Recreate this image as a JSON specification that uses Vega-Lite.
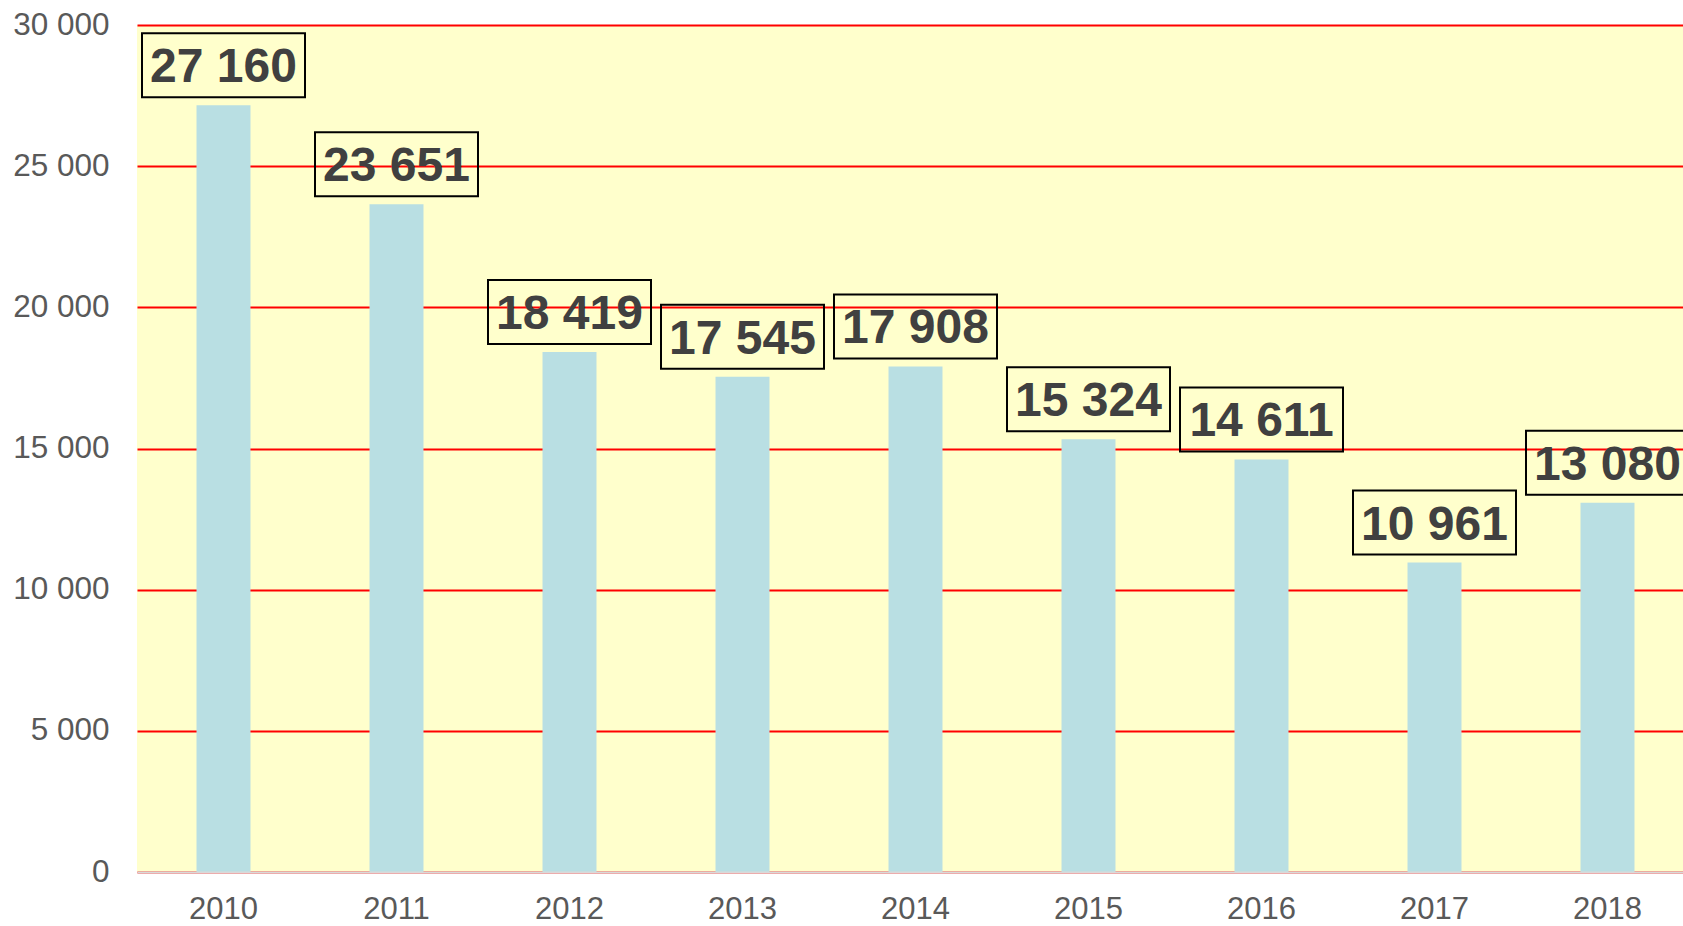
{
  "$schema": "https://vega.github.io/schema/vega-lite/v6.json",
  "autosize": "none",
  "width": 1546,
  "height": 847,
  "padding": {"left": 137, "top": 25, "right": 0, "bottom": 54},
  "background": "#FFFFFF",
  "config": {
    "view": {"fill": "#FFFFCC", "stroke": null},
    "font": "Liberation Sans"
  },
  "data": {
    "values": [
      {"year": "2010", "value": 27160, "label": "27 160"},
      {"year": "2011", "value": 23651, "label": "23 651"},
      {"year": "2012", "value": 18419, "label": "18 419"},
      {"year": "2013", "value": 17545, "label": "17 545"},
      {"year": "2014", "value": 17908, "label": "17 908"},
      {"year": "2015", "value": 15324, "label": "15 324"},
      {"year": "2016", "value": 14611, "label": "14 611"},
      {"year": "2017", "value": 10961, "label": "10 961"},
      {"year": "2018", "value": 13080, "label": "13 080"}
    ]
  },
  "encoding": {
    "x": {
      "field": "year",
      "type": "ordinal",
      "scale": {"range": [0, 1557], "paddingInner": 0.688, "paddingOuter": 0.344},
      "axis": {
        "title": null,
        "labelAngle": 0,
        "ticks": false,
        "labelPadding": 22,
        "labelFontSize": 31,
        "labelColor": "#595959",
        "labelFont": "Liberation Sans",
        "domainColor": "#D9D9D9",
        "domainWidth": 2,
        "grid": false,
        "zindex": 1
      }
    },
    "y": {
      "field": "value",
      "type": "quantitative",
      "scale": {"domain": [0, 30000], "nice": false},
      "axis": {
        "title": null,
        "values": [0, 5000, 10000, 15000, 20000, 25000, 30000],
        "labelExpr": "datum.value == 0 ? '0' : format(datum.value / 1000, 'd') + ' 000'",
        "ticks": false,
        "domain": false,
        "labelPadding": 28,
        "labelFontSize": 31.5,
        "labelColor": "#595959",
        "labelFont": "Liberation Sans",
        "grid": true,
        "gridColor": "#FF0000",
        "gridWidth": 2,
        "gridOpacity": 1
      }
    }
  },
  "layer": [
    {
      "mark": {"type": "bar", "color": "#B9DFE3"}
    },
    {
      "mark": {
        "type": "point",
        "shape": "M-1,-0.3926L1,-0.3926L1,0.3926L-1,0.3926Z",
        "size": 26569,
        "filled": false,
        "stroke": "#000000",
        "strokeWidth": 2,
        "opacity": 1,
        "yOffset": -40
      }
    },
    {
      "mark": {
        "type": "text",
        "font": "Liberation Sans",
        "fontWeight": "bold",
        "fontSize": 48,
        "color": "#404040",
        "baseline": "middle",
        "align": "center",
        "yOffset": -37
      },
      "encoding": {"text": {"field": "label"}}
    }
  ]
}
